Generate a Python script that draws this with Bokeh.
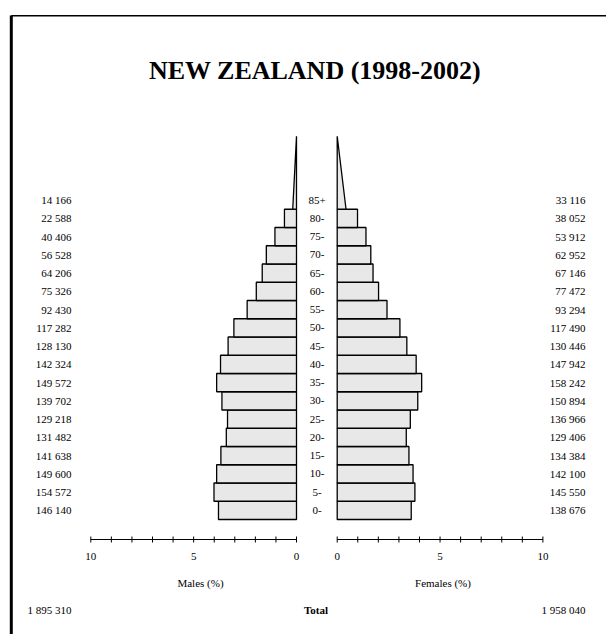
from bokeh.plotting import figure
from bokeh.models import Range1d, ColumnDataSource
from bokeh.embed import file_html
from bokeh.resources import INLINE
from bokeh.core.properties import value

# ---------------- data ----------------
chart_title = "NEW ZEALAND (1998-2002)"
age_groups = ["0-", "5-", "10-", "15-", "20-", "25-", "30-", "35-", "40-",
              "45-", "50-", "55-", "60-", "65-", "70-", "75-", "80-", "85+"]
males = [146140, 154572, 149600, 141638, 131482, 129218, 139702, 149572, 142324,
         128130, 117282, 92430, 75326, 64206, 56528, 40406, 22588, 14166]
females = [138676, 145550, 142100, 134384, 129406, 136966, 150894, 158242, 147942,
           130446, 117490, 93294, 77472, 67146, 62952, 53912, 38052, 33116]
axis_ticks = [0, 1, 2, 3, 4, 5, 6, 7, 8, 9, 10]
axis_tick_labels = [0, 5, 10]
male_axis_label = "Males (%)"
female_axis_label = "Females (%)"
total_label = "Total"

# ---------------- derived ----------------
def fmt(v):
    return f"{v:,}".replace(",", " ")

grand_total = sum(males) + sum(females)
male_pct = [v / grand_total * 100 for v in males]
female_pct = [v / grand_total * 100 for v in females]
n = len(age_groups)
last = n - 1          # open-ended group drawn as a wedge
wedge_span = 4        # the open group is spread over 4 group heights

FONT = value("Liberation Serif")
FILL = "#e8e8e8"

# ---------------- figure ----------------
W, H = 606, 634
S = 20.57            # px per percent
YS = 18.25           # px per age group
p = figure(width=W, height=H, output_backend="svg", toolbar_location=None,
           min_border=0, x_axis_location=None, y_axis_location=None,
           x_range=Range1d(0, W),
           y_range=Range1d((519 - H) / YS, 519 / YS),
           outline_line_color=None)
p.grid.visible = False
p.extra_y_ranges = {"px": Range1d(H, 0)}
p.extra_x_ranges = {
    "m": Range1d(296 / S, (296 - W) / S),
    "f": Range1d(-336.7 / S, (W - 336.7) / S),
}

# frame
p.line([10.8, 10.8], [H, 15], y_range_name="px", line_color="black", line_width=3)
p.line([10.8, W], [15.2, 15.2], y_range_name="px", line_color="black", line_width=1.5)

# title
p.text(x=[314.5], y=[70], text=[chart_title], y_range_name="px",
       text_font=FONT, text_font_size="26px", text_font_style="bold",
       text_align="center", text_baseline="alphabetic", text_color="black")

# bars
idx = list(range(last))
for name, pct in (("m", male_pct), ("f", female_pct)):
    src = ColumnDataSource(dict(left=[0] * last, right=pct[:last],
                                bottom=idx, top=[i + 1 for i in idx]))
    p.quad(left="left", right="right", bottom="bottom", top="top", source=src,
           x_range_name=name, fill_color=FILL, line_color="black", line_width=1.3)
    w = pct[last] / (wedge_span / 2)
    p.patch([0, w, 0], [last, last, last + wedge_span], x_range_name=name,
            fill_color=FILL, line_color="black", line_width=1.3)

# side numbers and age labels
centers = [i + 0.5 for i in range(n)]
p.text(x=[71] * n, y=centers, text=[fmt(v) for v in males], text_font=FONT,
       text_font_size="11px", text_align="right", text_baseline="middle",
       text_color="black")
p.text(x=[585] * n, y=centers, text=[fmt(v) for v in females], text_font=FONT,
       text_font_size="11px", text_align="right", text_baseline="middle",
       text_color="black")
p.text(x=[316.5] * n, y=centers, text=age_groups, text_font=FONT,
       text_font_size="11px", text_align="center", text_baseline="middle",
       text_color="black")

# axes
for name in ("m", "f"):
    p.segment(x0=[axis_ticks[0]], x1=[axis_ticks[-1]], y0=[539], y1=[539],
              x_range_name=name, y_range_name="px", line_color="black", line_width=1.2)
    p.segment(x0=axis_ticks, x1=axis_ticks, y0=[536] * len(axis_ticks),
              y1=[542] * len(axis_ticks), x_range_name=name, y_range_name="px",
              line_color="black", line_width=1)
    p.text(x=axis_tick_labels, y=[556] * len(axis_tick_labels),
           text=[str(t) for t in axis_tick_labels], x_range_name=name,
           y_range_name="px", text_font=FONT, text_font_size="11px",
           text_align="center", text_baseline="middle", text_color="black")

p.text(x=[200], y=[582], text=[male_axis_label], y_range_name="px", text_font=FONT,
       text_font_size="11px", text_align="center", text_baseline="middle",
       text_color="black")
p.text(x=[442.5], y=[582], text=[female_axis_label], y_range_name="px", text_font=FONT,
       text_font_size="11px", text_align="center", text_baseline="middle",
       text_color="black")

# totals
p.text(x=[71], y=[609], text=[fmt(sum(males))], y_range_name="px", text_font=FONT,
       text_font_size="11px", text_align="right", text_baseline="middle",
       text_color="black")
p.text(x=[585], y=[609], text=[fmt(sum(females))], y_range_name="px", text_font=FONT,
       text_font_size="11px", text_align="right", text_baseline="middle",
       text_color="black")
p.text(x=[315.5], y=[609], text=[total_label], y_range_name="px", text_font=FONT,
       text_font_size="11px", text_font_style="bold", text_align="center",
       text_baseline="middle", text_color="black")

open("out.html", "w").write(file_html(p, INLINE))
